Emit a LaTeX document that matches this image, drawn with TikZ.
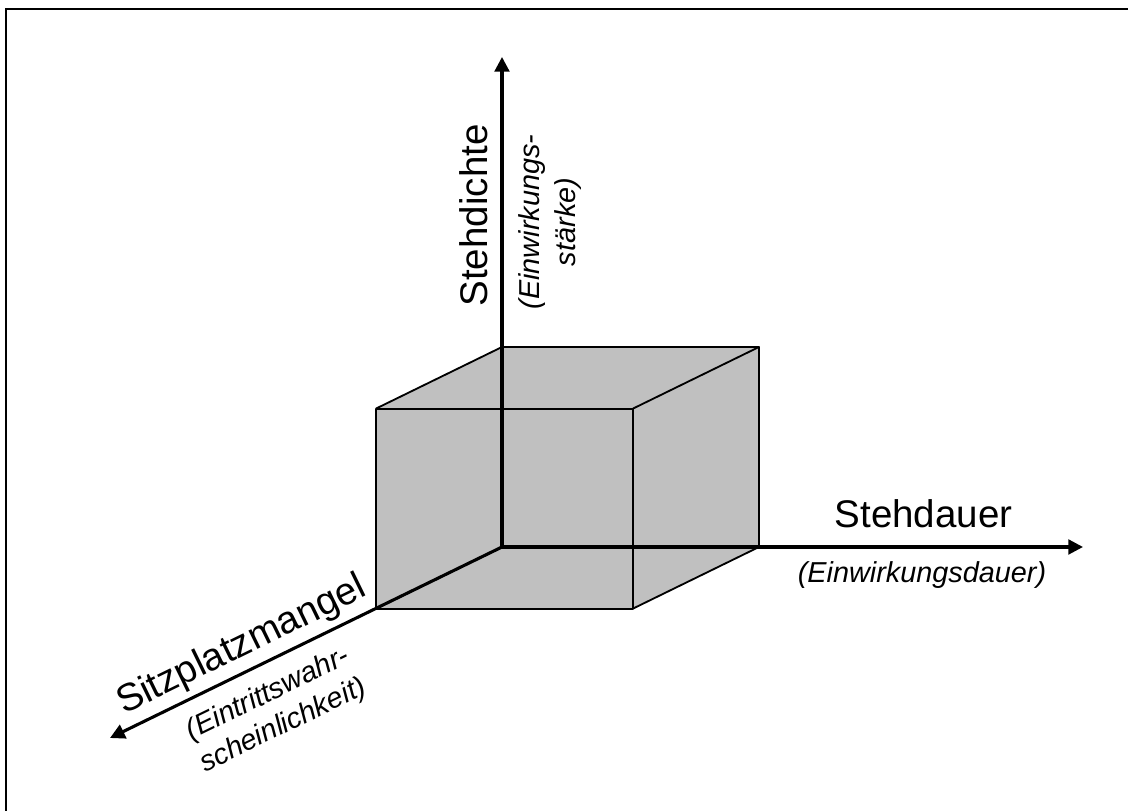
\documentclass[tikz,border=0pt]{standalone}
\usepackage{fontspec}
\setmainfont{Liberation Sans}
\usetikzlibrary{arrows.meta}
\definecolor{cubegray}{RGB}{192,192,192}

\begin{document}
\begin{tikzpicture}[
		axis/.style={line width=2.2pt, -{Triangle[length=10.5pt, width=10.5pt]}},
		edge/.style={line width=1.3pt, line join=round},
		axlabel/.style={font=\fontsize{27.4}{33}\selectfont, inner sep=0pt},
		sublabel/.style={font=\fontsize{20.5}{25}\selectfont\itshape, align=center, inner sep=0pt}]
			%%%%% START %%%%%
			
			\useasboundingbox (0, 0) rectangle (28.2, 20.275);
			\draw[line width=1.4pt] (0.15, -1) -- (0.15, 20.05) -- (29, 20.05);
			
			% back corners of the cube
			\coordinate (O) at (12.55, 6.6);
			\coordinate (BTL) at (12.55, 11.6);
			\coordinate (BTR) at (18.975, 11.6);
			\coordinate (BBR) at (18.975, 6.6);
			
			% front corners
			\coordinate (FBL) at (9.4, 5.06);
			\coordinate (FBR) at (15.825, 5.06);
			\coordinate (FTR) at (15.825, 10.06);
			\coordinate (FTL) at (9.4, 10.06);
			
			% axis ends
			\coordinate (Zend) at (12.55, 18.85);
			\coordinate (Xend) at (27.075, 6.6);
			\coordinate (Yend) at (2.75, 1.825);
			
			\fill[cubegray] (FBL) -- (FBR) -- (BBR) -- (BTR) -- (BTL) -- (FTL) -- cycle;
			
			\draw[edge] (FBL) rectangle (FTR);
			\draw[edge] (FTL) -- (BTL) -- (BTR) -- (FTR);
			\draw[edge] (BTR) -- (BBR) -- (FBR);
			\draw[edge] (FBL) -- (O) -- (BBR);
			\draw[edge] (O) -- (BTL);
			
			\draw[axis] (O) -- (Zend);
			\draw[axis] (O) -- (Xend);
			\draw[axis] (O) -- (Yend);
			
			\node[axlabel, rotate=90, anchor=base] (dichte) at (12.175, 14.89) {Stehdichte};
			\node[sublabel, rotate=90] (staerke) at (13.75, 14.725) {(Einwirkungs-\\stärke)};
			
			\node[axlabel, anchor=base] (dauer) at (23.09, 7.075) {Stehdauer};
			\node[sublabel, anchor=base] (edauer) at (23.05, 5.71) {(Einwirkungsdauer)};
			
			\node[axlabel, rotate=26, anchor=base] (mangel) at (6.16, 3.905) {Sitzplatzmangel};
			\node[sublabel, rotate=26] (wahr) at (6.89, 2.517) {(Eintrittswahr-\\scheinlichkeit)};
			
			%%%%% END %%%%%
		\end{tikzpicture}
\end{document}
